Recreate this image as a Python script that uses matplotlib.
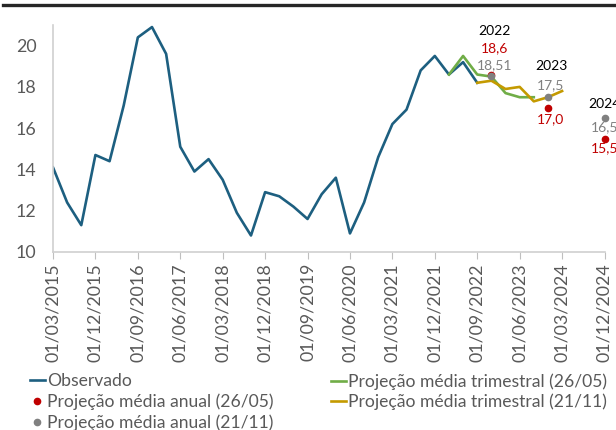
import matplotlib
matplotlib.use('Agg')
import matplotlib.pyplot as plt
from matplotlib.lines import Line2D

plt.rcParams['font.family'] = ['Lato', 'DejaVu Sans']

#define
# quarterly index: 0 = 01/03/2015, one step per quarter
obs_x = list(range(0, 31))
obs_y = [14.1, 12.4, 11.3, 14.7, 14.4, 17.1, 20.4, 20.9, 19.6, 15.1, 13.9, 14.5,
         13.5, 11.9, 10.8, 12.9, 12.7, 12.2, 11.6, 12.8, 13.6, 10.9, 12.4, 14.6,
         16.2, 16.9, 18.8, 19.5, 18.6, 19.2, 18.2]

trim_may_x = list(range(28, 35))
trim_may_y = [18.6, 19.5, 18.6, 18.5, 17.7, 17.5, 17.5]

trim_nov_x = list(range(30, 37))
trim_nov_y = [18.2, 18.3, 17.9, 18.0, 17.3, 17.5, 17.8]

years = ['2022', '2023', '2024']
year_x = [31, 35, 39]
anual_may = [18.6, 17.0, 15.5]
anual_may_lbl = ['18,6', '17,0', '15,5']
anual_nov = [18.51, 17.5, 16.5]
anual_nov_lbl = ['18,51', '17,5', '16,5']

tick_x = list(range(0, 40, 3))
tick_lbl = ['01/03/2015', '01/12/2015', '01/09/2016', '01/06/2017', '01/03/2018',
            '01/12/2018', '01/09/2019', '01/06/2020', '01/03/2021', '01/12/2021',
            '01/09/2022', '01/06/2023', '01/03/2024', '01/12/2024']

c_obs = '#1d5f80'
c_may = '#70ad47'
c_nov = '#c49a00'
c_red = '#c00000'
c_gray = '#808080'
c_txt = '#595959'

W, H = 616, 430

#plot
fig = plt.figure(figsize=(W/100, H/100), dpi=100)
ax = fig.add_axes([53/W, 1-252/H, 551.5/W, 227/H])

ax.plot(obs_x, obs_y, color=c_obs, lw=1.9, label='Observado')
ax.plot(trim_may_x, trim_may_y, color=c_may, lw=1.9, label='Projeção média trimestral (26/05)')
ax.plot(trim_nov_x, trim_nov_y, color=c_nov, lw=1.9, label='Projeção média trimestral (21/11)')
ax.plot(year_x, anual_may, 'o', color=c_red, ms=4.5, ls='none', label='Projeção média anual (26/05)', clip_on=False)
ax.plot(year_x, anual_nov, 'o', color=c_gray, ms=4.5, ls='none', label='Projeção média anual (21/11)', clip_on=False)

# data labels
offs = {'2022': ((3, 45), (3, 26), (3, 11)),
        '2023': ((3, 31), (3, -12), (3, 12)),
        '2024': ((0, 14), (0, -10), (0, -9))}
for i in range(len(years)):
    yo, ro, go = offs[years[i]]
    ax.annotate(years[i], (year_x[i], anual_nov[i]), xytext=yo, textcoords='offset pixels',
                ha='center', va='center', fontsize=10, color='black', annotation_clip=False)
    ax.annotate(anual_may_lbl[i], (year_x[i], anual_may[i]), xytext=ro, textcoords='offset pixels',
                ha='center', va='center', fontsize=10, color=c_red, annotation_clip=False)
    ax.annotate(anual_nov_lbl[i], (year_x[i], anual_nov[i]), xytext=go, textcoords='offset pixels',
                ha='center', va='center', fontsize=10, color=c_gray, annotation_clip=False)

ax.set_xlim(0, 39)
ax.set_ylim(10, 21)
ax.set_yticks([10, 12, 14, 16, 18, 20])
ax.set_xticks(tick_x)
ax.set_xticklabels(tick_lbl, rotation=90)
ax.tick_params(axis='x', length=5, color='#bfbfbf', labelsize=12.8, labelcolor=c_txt, pad=3)
ax.tick_params(axis='y', length=0, labelsize=12.8, labelcolor=c_txt, pad=12)
for s in ['top', 'right']:
    ax.spines[s].set_visible(False)
for s in ['left', 'bottom']:
    ax.spines[s].set_color('#d0d0d0')
    ax.spines[s].set_linewidth(1.2)

# legend in two blocks, rows at fixed pixel heights
h, l = ax.get_legend_handles_labels()
cols = [([0, 3, 4], 30), ([1, 2], 331)]
fs = 12.6
row1, pitch = 381.5, 20.3
kw = dict(frameon=False, fontsize=fs, handlelength=0.85, handletextpad=0.1,
          borderpad=0, borderaxespad=0, labelcolor=c_txt, loc='upper left')


def centers(leg):
    fig.canvas.draw()
    r = fig.canvas.get_renderer()
    return [(t.get_window_extent(r).y0 + t.get_window_extent(r).y1) / 2 for t in leg.get_texts()]


for idx, x0 in cols:
    leg = fig.legend([h[i] for i in idx], [l[i] for i in idx], bbox_to_anchor=(x0/W, 1-369/H), labelspacing=0, **kw)
    c = centers(leg)
    ls = (pitch - (c[0] - c[1])) / (fs * 100 / 72)
    leg.remove()
    leg = fig.legend([h[i] for i in idx], [l[i] for i in idx], bbox_to_anchor=(x0/W, 1-369/H), labelspacing=ls, **kw)
    c = centers(leg)
    dy = (H - row1) - c[0]
    leg.set_bbox_to_anchor((x0/W, 1-369/H + dy/H), transform=fig.transFigure)

# top rule
fig.add_artist(Line2D([3/W, 1], [1-5/H, 1-5/H], color='#262626', lw=2.4, transform=fig.transFigure))

fig.savefig('out.png', dpi=100)
